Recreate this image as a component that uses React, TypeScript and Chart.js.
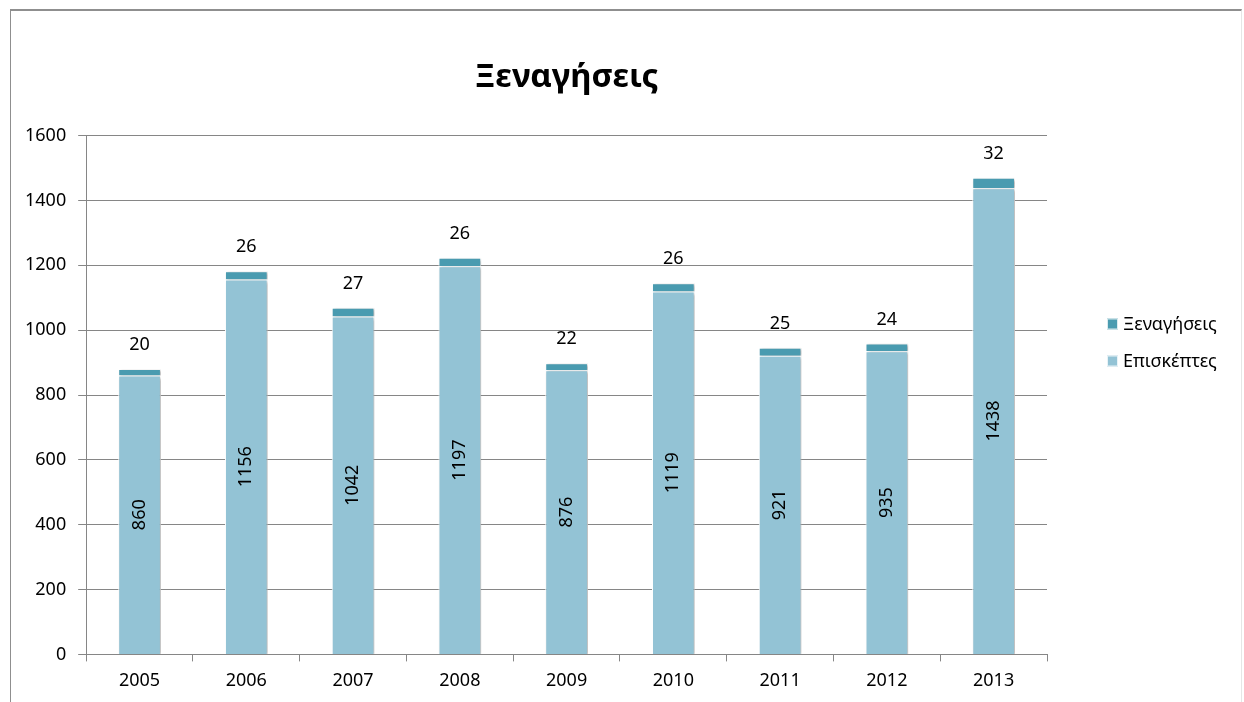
import React, { useEffect, useRef } from "react";
import { Chart, registerables } from "chart.js";

Chart.register(...registerables);

const years = ["2005", "2006", "2007", "2008", "2009", "2010", "2011", "2012", "2013"];
const visitors = [860, 1156, 1042, 1197, 876, 1119, 921, 935, 1438];
const tours = [20, 26, 27, 26, 22, 26, 25, 24, 32];
const titleText = "Ξεναγήσεις";
const visitorsLabel = "Επισκέπτες";
const toursLabel = "Ξεναγήσεις";

const FONT = "'Noto Sans', sans-serif";

const shadowPlugin = {
  id: "barShadow",
  beforeDatasetDraw(chart: any) {
    const ctx = chart.ctx;
    ctx.save();
    ctx.shadowColor = "rgba(0,0,0,0.3)";
    ctx.shadowBlur = 3;
    ctx.shadowOffsetX = 2;
    ctx.shadowOffsetY = 1;
  },
  afterDatasetDraw(chart: any) {
    chart.ctx.restore();
  },
};

const labelPlugin = {
  id: "valueLabels",
  afterDatasetsDraw(chart: any) {
    const ctx = chart.ctx;
    ctx.save();
    ctx.fillStyle = "#000";
    ctx.font = `18px ${FONT}`;
    const m0 = chart.getDatasetMeta(0);
    const m1 = chart.getDatasetMeta(1);
    m0.data.forEach((el: any, i: number) => {
      const v = chart.data.datasets[0].data[i];
      const cy = (el.y + el.base) / 2;
      ctx.save();
      ctx.translate(el.x, cy);
      ctx.rotate(-Math.PI / 2);
      ctx.textAlign = "center";
      ctx.textBaseline = "middle";
      ctx.fillText(String(v), 0, 0);
      ctx.restore();
    });
    m1.data.forEach((el: any, i: number) => {
      const v = chart.data.datasets[1].data[i];
      ctx.textAlign = "center";
      ctx.textBaseline = "middle";
      ctx.fillText(String(v), el.x, el.y - 24);
    });
    ctx.restore();
  },
};

const legendPlugin = {
  id: "customLegend",
  afterDraw(chart: any) {
    const ctx = chart.ctx;
    const ds = chart.data.datasets;
    const order = [1, 0];
    const x = chart.chartArea.right + 60;
    const y0 = 324;
    ctx.save();
    ctx.font = `18px ${FONT}`;
    ctx.textBaseline = "middle";
    ctx.textAlign = "left";
    order.forEach((di, k) => {
      const y = y0 + k * 37;
      ctx.fillStyle = ds[di].backgroundColor;
      ctx.fillRect(x, y - 5.5, 11, 11);
      ctx.strokeStyle = "rgba(255,255,255,0.8)";
      ctx.lineWidth = 1;
      ctx.strokeRect(x + 0.5, y - 5, 10, 10);
      ctx.fillStyle = "#000";
      ctx.fillText(ds[di].label, x + 16, y + 1);
    });
    ctx.restore();
  },
};

export default function App() {
  const ref = useRef<HTMLCanvasElement>(null);
  useEffect(() => {
    if (!ref.current) return;
    const chart = new Chart(ref.current, {
      type: "bar",
      data: {
        labels: years,
        datasets: [
          {
            label: visitorsLabel,
            data: visitors,
            backgroundColor: "#93C3D5",
            borderColor: "#ffffff",
            borderWidth: 1,
            barPercentage: 0.4,
            categoryPercentage: 1,
          },
          {
            label: toursLabel,
            data: tours,
            backgroundColor: "#4A9BB0",
            borderColor: "#ffffff",
            borderWidth: 1,
            barPercentage: 0.4,
            categoryPercentage: 1,
          },
        ],
      },
      options: {
        animation: false,
        responsive: true,
        maintainAspectRatio: false,
        layout: { padding: { left: 13, right: 197, top: 0, bottom: 1 } },
        plugins: {
          legend: { display: false },
          tooltip: { enabled: false },
          title: {
            display: true,
            text: titleText,
            fullSize: false,
            color: "#000",
            font: { family: FONT, size: 33, weight: "bold" },
            padding: { top: 58, bottom: 38 },
          },
        },
        scales: {
          x: {
            stacked: true,
            grid: {
              display: true,
              drawOnChartArea: false,
              drawTicks: true,
              tickLength: 7,
              color: "#868686",
              offset: true,
            },
            border: { display: true, color: "#868686", width: 1 },
            ticks: { color: "#000", font: { family: FONT, size: 18 }, padding: 9 },
          },
          y: {
            stacked: true,
            min: 0,
            max: 1600,
            ticks: {
              stepSize: 200,
              color: "#000",
              font: { family: FONT, size: 18 },
              padding: 12,
              callback: (v: any) => String(v),
            },
            grid: { color: "#868686", tickLength: 8, lineWidth: 1 },
            border: { display: true, color: "#868686", width: 1 },
          },
        },
      },
      plugins: [shadowPlugin, labelPlugin, legendPlugin],
    });
    return () => chart.destroy();
  }, []);

  return (
    <div style={{ position: "fixed", left: 0, top: 0, width: 1244, height: 702, background: "#fff" }}>
      <div
        style={{
          position: "absolute",
          left: 10,
          top: 9,
          width: 1232,
          height: 720,
          borderTop: "2px solid #8f8f8f",
          borderLeft: "1px solid #8f8f8f",
          borderRight: "1px solid #e6e6e6",
          boxSizing: "border-box",
        }}
      />
      <canvas ref={ref} style={{ position: "absolute", left: 0, top: 0 }} />
    </div>
  );
}
